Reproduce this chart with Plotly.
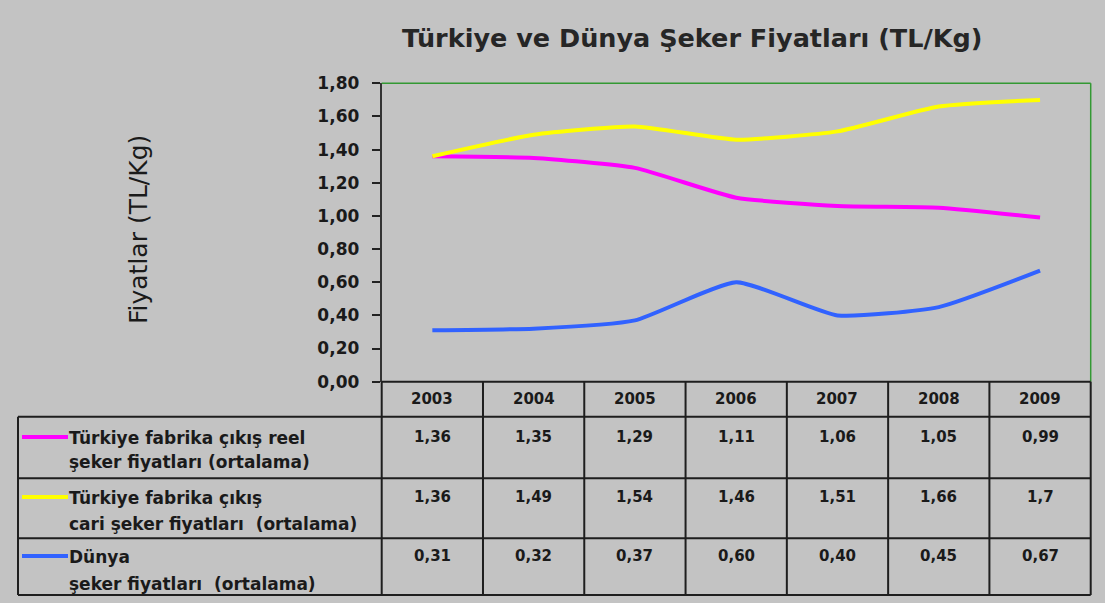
import plotly.graph_objects as go

# ---------------- data ----------------
years = ["2003", "2004", "2005", "2006", "2007", "2008", "2009"]
reel = [1.36, 1.35, 1.29, 1.11, 1.06, 1.05, 0.99]
cari = [1.36, 1.49, 1.54, 1.46, 1.51, 1.66, 1.70]
dunya = [0.31, 0.32, 0.37, 0.60, 0.40, 0.45, 0.67]

reel_txt = ["1,36", "1,35", "1,29", "1,11", "1,06", "1,05", "0,99"]
cari_txt = ["1,36", "1,49", "1,54", "1,46", "1,51", "1,66", "1,7"]
dunya_txt = ["0,31", "0,32", "0,37", "0,60", "0,40", "0,45", "0,67"]

ytick_vals = [0, 0.2, 0.4, 0.6, 0.8, 1.0, 1.2, 1.4, 1.6, 1.8]
ytick_text = ["0,00", "0,20", "0,40", "0,60", "0,80", "1,00", "1,20", "1,40", "1,60", "1,80"]

series_labels = [
    ["Türkiye fabrika çıkış reel", "şeker fiyatları (ortalama)"],
    ["Türkiye fabrika çıkış", "cari şeker fiyatları  (ortalama)"],
    ["Dünya", "şeker fiyatları  (ortalama)"],
]
title = "Türkiye ve Dünya Şeker Fiyatları (TL/Kg)"
ytitle = "Fiyatlar (TL/Kg)"

# ---------------- style ----------------
W, H = 1105, 603
BG = "#c3c3c3"
FONT = "DejaVu Sans, Verdana, sans-serif"
colors = ["#ff00ff", "#ffff00", "#3162ff"]
GRID = "#1e1e1e"


def px(x):
    return x / W


def py(y):
    return 1 - y / H


X0, X1 = 381.7, 1090.7
Y_TOP, Y_AX = 83.3, 381.7
row_edges = [416.7, 478.3, 538.3, 595.0]
TBL_LEFT = 18

fig = go.Figure()
for vals, col, lab in zip([reel, cari, dunya], colors, series_labels):
    fig.add_trace(go.Scatter(
        x=list(range(len(years))), y=vals, mode="lines", name=" ".join(lab),
        line=dict(color=col, width=4, shape="spline", smoothing=0.5),
        showlegend=False, hoverinfo="y",
    ))

shapes = []
shapes.append(dict(type="line", xref="x domain", yref="y domain", x0=0, x1=1, y0=1, y1=1,
                   line=dict(color="#339933", width=1.5)))
shapes.append(dict(type="line", xref="x domain", yref="y domain", x0=1, x1=1, y0=0, y1=1,
                   line=dict(color="#339933", width=1.5)))
shapes.append(dict(type="line", xref="paper", yref="paper", x0=px(X0), x1=px(X1),
                   y0=py(Y_AX), y1=py(Y_AX), line=dict(color=GRID, width=2)))
for ye in row_edges:
    shapes.append(dict(type="line", xref="paper", yref="paper", x0=px(TBL_LEFT), x1=px(X1),
                       y0=py(ye), y1=py(ye), line=dict(color=GRID, width=2)))
shapes.append(dict(type="line", xref="paper", yref="paper", x0=px(TBL_LEFT), x1=px(TBL_LEFT),
                   y0=py(row_edges[0]), y1=py(row_edges[-1]), line=dict(color=GRID, width=2)))
# outer table edges (aligned with the plot domain edges)
for xe in (X0, X1):
    shapes.append(dict(type="line", xref="paper", yref="paper", x0=px(xe), x1=px(xe),
                       y0=py(Y_AX), y1=py(row_edges[-1]), line=dict(color=GRID, width=2)))
# inner column separators through the x scale
for i in range(1, len(years)):
    shapes.append(dict(type="line", xref="x", yref="paper", x0=i - 0.5, x1=i - 0.5,
                       y0=py(Y_AX), y1=py(row_edges[-1]), line=dict(color=GRID, width=2)))

annotations = []
annotations.append(dict(text="<b>%s</b>" % title, xref="paper", yref="paper", x=px(692), y=py(38),
                        showarrow=False, xanchor="center", yanchor="middle",
                        font=dict(family=FONT, size=25.5, color="#262626")))
annotations.append(dict(text=ytitle, xref="paper", yref="paper", x=px(138), y=py(230),
                        showarrow=False, textangle=-90, xanchor="center", yanchor="middle",
                        font=dict(family=FONT, size=25, color="#1a1a1a")))

cell_font = dict(family=FONT, size=15, color="#1a1a1a")
label_font = dict(family=FONT, size=17, color="#1a1a1a")
for i, yr in enumerate(years):
    annotations.append(dict(text="<b>%s</b>" % yr, xref="x", yref="paper", x=i, y=py(399),
                            showarrow=False, xanchor="center", yanchor="middle", font=cell_font))
row_val_y = [437, 497, 556]
for txts, yv in zip([reel_txt, cari_txt, dunya_txt], row_val_y):
    for i, t in enumerate(txts):
        annotations.append(dict(text="<b>%s</b>" % t, xref="x", yref="paper", x=i, y=py(yv),
                                showarrow=False, xanchor="center", yanchor="middle", font=cell_font))
label_lines_y = [(438, 462), (498, 524), (557, 584)]
for lab, (l1, l2), col in zip(series_labels, label_lines_y, colors):
    shapes.append(dict(type="line", xref="paper", yref="paper", x0=px(22), x1=px(68),
                       y0=py(l1 - 1), y1=py(l1 - 1), line=dict(color=col, width=4)))
    annotations.append(dict(text="<b>%s</b>" % lab[0], xref="paper", yref="paper", x=px(67),
                            y=py(l1), showarrow=False, xanchor="left", yanchor="middle",
                            font=label_font))
    annotations.append(dict(text="<b>%s</b>" % lab[1], xref="paper", yref="paper", x=px(67),
                            y=py(l2), showarrow=False, xanchor="left", yanchor="middle",
                            font=label_font))

fig.update_layout(
    width=W, height=H, autosize=False,
    margin=dict(l=0, r=0, t=0, b=0, pad=0, autoexpand=False),
    paper_bgcolor=BG, plot_bgcolor=BG,
    xaxis=dict(range=[-0.5, 6.5], domain=[px(X0), px(X1)], automargin=False,
               showticklabels=False, showgrid=False, zeroline=False, showline=False,
               ticks=""),
    yaxis=dict(range=[0, 1.8], domain=[py(Y_AX), py(Y_TOP)], automargin=False,
               tickvals=ytick_vals, ticktext=["<b>%s</b>" % t for t in ytick_text],
               ticks="outside", ticklen=8, tickwidth=1.5, tickcolor="#222222",
               showline=True, linecolor="#333333", linewidth=2,
               showgrid=False, zeroline=False,
               tickfont=dict(family=FONT, size=17, color="#1a1a1a"),
               ticklabelstandoff=9),
    shapes=shapes, annotations=annotations,
)

fig.write_html("out.html", config={"displayModeBar": False},
               post_script="document.body.style.margin='0';")
